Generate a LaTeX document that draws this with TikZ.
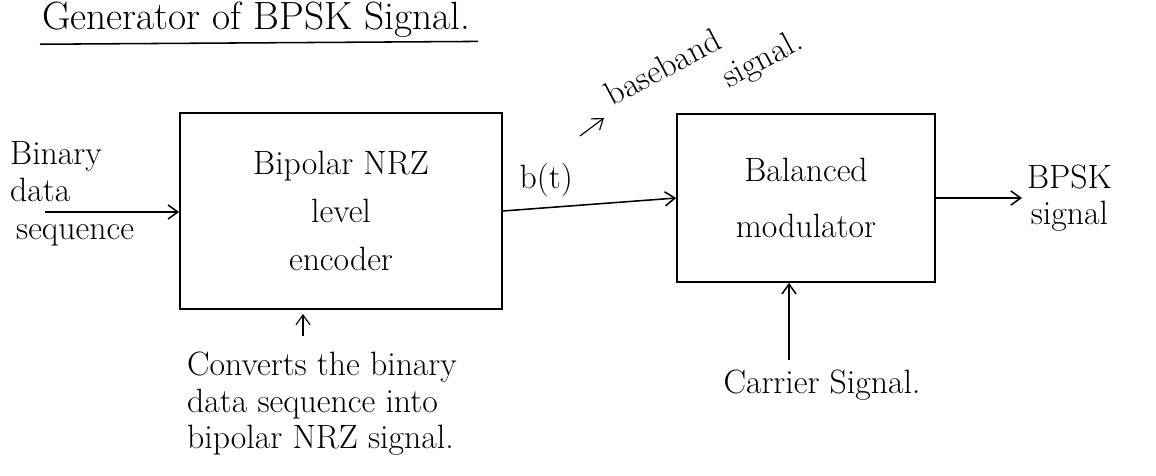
\documentclass[tikz,border=0pt]{standalone}
\usepackage{tikz}
\usetikzlibrary{arrows.meta,positioning}

\begin{document}
\begin{tikzpicture}[x=0.025cm,y=-0.025cm,line width=1.1pt,
>={Straight Barb[length=7pt,width=10pt]},
blk/.style={draw,align=center,font=\fontsize{24}{34}\selectfont},
txt/.style={align=center,inner sep=1pt,font=\fontsize{24}{26}\selectfont}]
\useasboundingbox (0,0) rectangle (1156,475);
\node[txt,anchor=west,font=\fontsize{28}{32}\selectfont] (title) at (40,20) {Generator of BPSK Signal.};
\draw ([yshift=-3pt]title.south west) -- ([xshift=4pt,yshift=-1pt]title.south east);
\node[blk,minimum width=8.05cm,minimum height=4.9cm] (enc) at (341,211) {Bipolar NRZ\\level\\encoder};
\node[blk,minimum width=6.45cm,minimum height=4.2cm,font=\fontsize{24}{40}\selectfont] (mod) at (806,198) {Balanced\\modulator};
% input side
\coordinate (src) at (45,212);
\node[txt,align=left,anchor=south west] (bin) at (8,204) {Binary\\data};
\node[txt,anchor=north west] (seq) at (14,222) {sequence};
\draw[->] (src)--(src -| enc.west);
\draw[->] (enc.east)--node[txt,above=6pt,pos=.25]{b(t)}(mod.west);
% baseband note
\coordinate (bbtail) at (580,136);
\coordinate (bbtip) at (604,118);
\draw[->,line width=.8pt] (bbtail)--(bbtip);
\node[txt,rotate=28,align=left,font=\fontsize{24}{27}\selectfont] (bb) at (705,70) {baseband\\\hspace*{3.3em}signal.};
% output and carrier
\coordinate (out) at (1022,198);
\draw[->] (mod.east)--(out);
\node[txt,right=2pt of out] (bpsk) {BPSK\\signal};
\coordinate (cin) at (789,360);
\node[txt,anchor=north] (carr) at (822,368) {Carrier Signal.};
\draw[->] (cin)--(cin |- mod.south);
% encoder note
\coordinate (note) at (303,336);
\coordinate (notetip) at (303,314);
\draw[->,line width=.8pt] (note)--(notetip);
\node[txt,align=left,anchor=north west] (conv) at (185,350) {Converts the binary\\data sequence into\\bipolar NRZ signal.};
\end{tikzpicture}
\end{document}
